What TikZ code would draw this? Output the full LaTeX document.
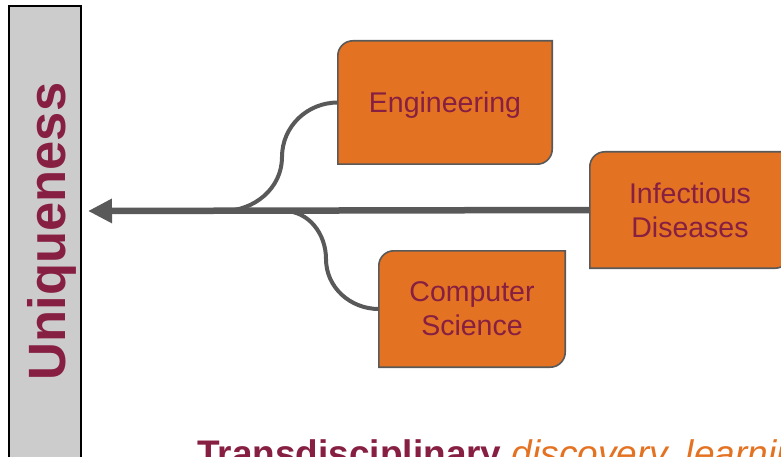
\documentclass[tikz,border=0pt]{standalone}
\usepackage{fontspec}
\setmainfont{Liberation Sans}
\usetikzlibrary{arrows.meta, backgrounds}
\definecolor{vtmaroon}{RGB}{134,31,65}
\definecolor{vtorange}{RGB}{227,114,34}
\definecolor{linegray}{RGB}{89,89,89}
\definecolor{bargray}{RGB}{204,204,204}

\tikzset{
    discbox/.style={inner sep=0pt, text=vtmaroon, align=center, text depth=0pt,
        font=\fontsize{28.5}{34}\selectfont},
    boxline/.style={fill=vtorange, draw=linegray, line width=1.6pt},
    branch/.style={draw=linegray, line width=4pt},
}

\begin{document}
\begin{tikzpicture}[x=1pt, y=-1pt]
    \useasboundingbox (0,0) rectangle (781,457);
    \clip (0,0) rectangle (781,457);

    % Uniqueness bar
    \draw[fill=bargray, draw=black, line width=1.3pt] (9,6) rectangle (81,475);
    \node[rotate=90, anchor=base, text=vtmaroon, inner sep=0pt,
        font=\fontsize{52.5}{60}\selectfont\bfseries] (uniq) at (65,231.5) {Uniqueness};

    % Disciplines
    \node[discbox, minimum width=214pt, minimum height=123pt] (eng) at (445,102.5) {Engineering};
    \node[discbox, minimum width=200pt, minimum height=116pt] (inf) at (690,210) {Infectious\\Diseases};
    \node[discbox, minimum width=186pt, minimum height=116pt] (cs) at (472,309) {Computer\\Science};

    % Branch points
    \coordinate (tip) at (88,211);
    \coordinate (engbend) at (282,157);
    \coordinate (engjoin) at (223,211);
    \coordinate (csjoin) at (284,211);
    \coordinate (csbend) at (326,259);

    \begin{scope}[on background layer]
        % Connectors
        \draw[branch] (eng.west) to[out=180, in=90] (engbend) to[out=-90, in=0] (engjoin);
        \draw[branch] (csjoin) to[out=0, in=90] (csbend) to[out=-90, in=180] (cs.west);
        \draw[draw=linegray, line width=6.5pt, -{Triangle[length=24pt, width=23pt]}] (inf.west) -- (tip);

        % Box outlines (top left and bottom right rounded)
        \foreach \b in {eng, inf, cs} {
            \draw[boxline] (\b.west) [rounded corners=15pt] -- (\b.north west) -- (\b.north)
                [sharp corners] -- (\b.north east) -- (\b.east)
                [rounded corners=15pt] -- (\b.south east) -- (\b.south)
                [sharp corners] -- (\b.south west) -- cycle;
        }
    \end{scope}

    % Bottom line
    \node[anchor=base west, inner sep=0pt, font=\fontsize{37}{44}\selectfont] (motto) at (197,466)
        {\textcolor{vtmaroon}{\bfseries Transdisciplinary} \textcolor{vtorange}{\itshape discovery, learning}};
\end{tikzpicture}
\end{document}
